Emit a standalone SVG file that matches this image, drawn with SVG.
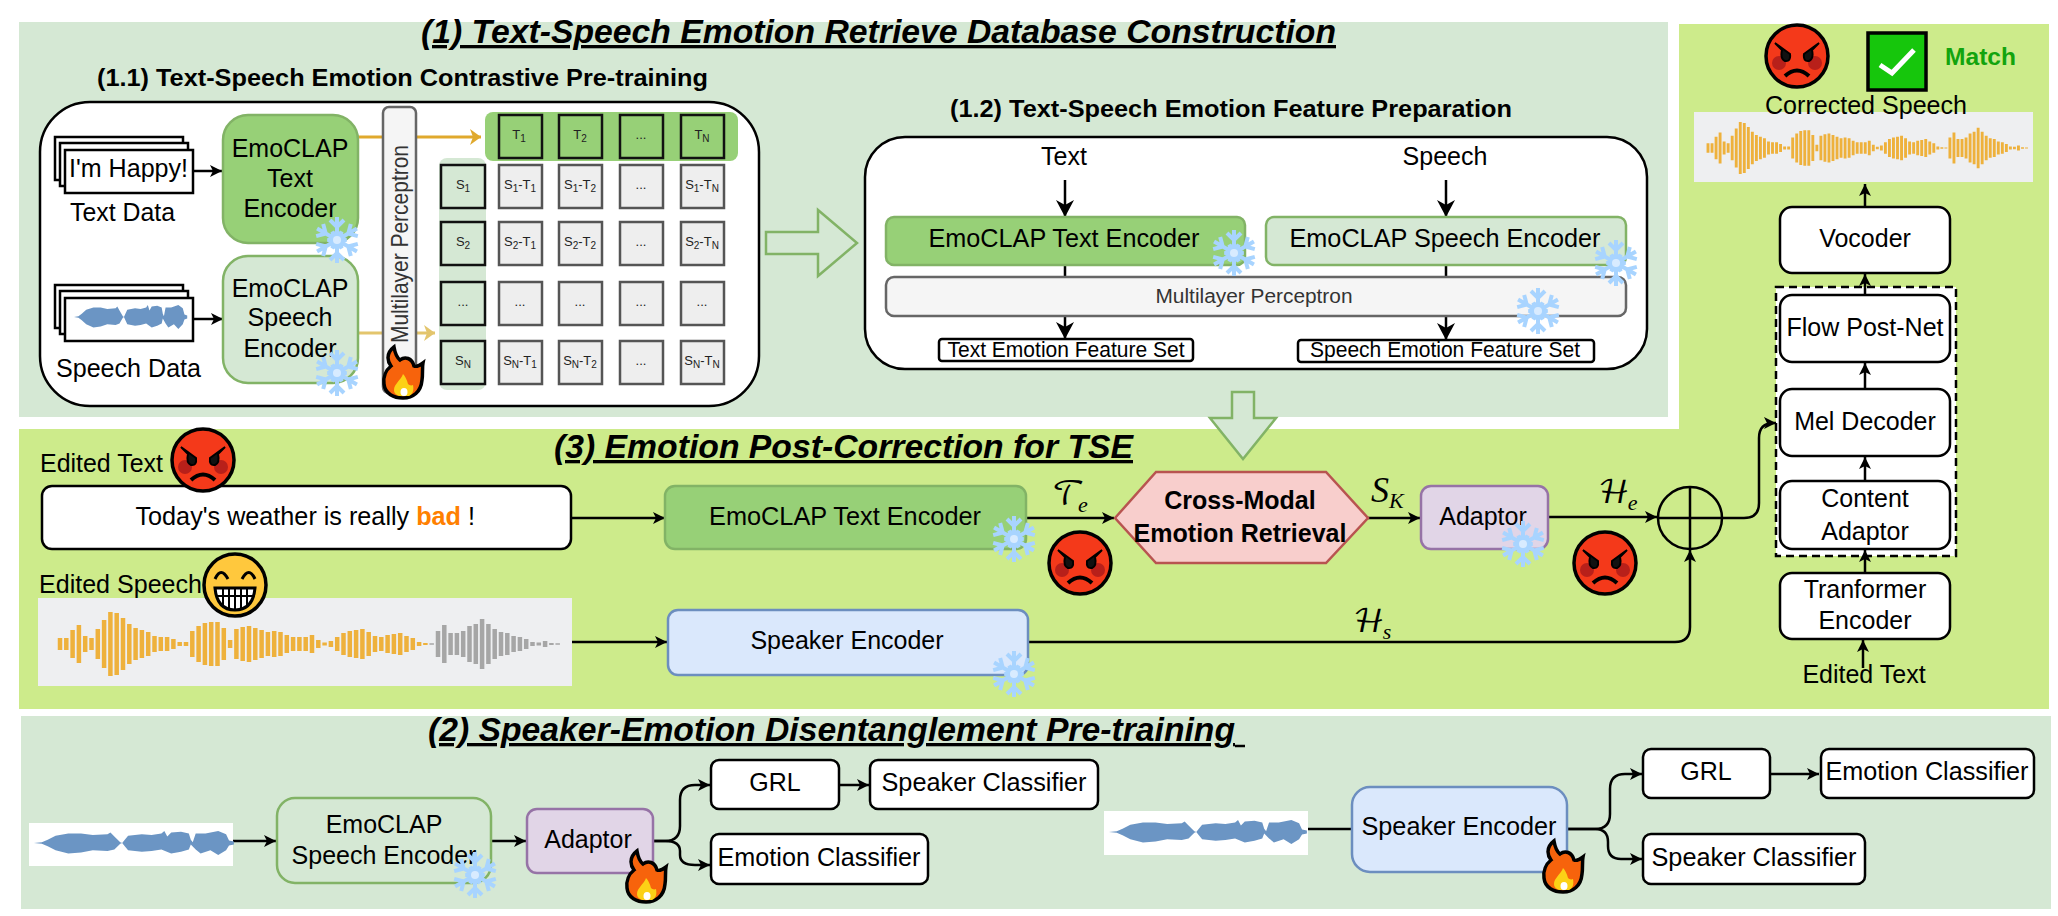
<svg xmlns="http://www.w3.org/2000/svg" width="2058" height="916" viewBox="0 0 2058 916">
<style>
text{font-family:"Liberation Sans",Arial,sans-serif;fill:#000;font-size:25px}
.m{text-anchor:middle}
.h{font-weight:bold;font-style:italic;text-decoration:underline;font-size:33px}
.sh{font-weight:bold;font-size:24px}
.w{fill:#fff;stroke:#000;stroke-width:2.5}
.g1{fill:#97d077;stroke:#82b366;stroke-width:2.5}
.g2{fill:#d5e8d4;stroke:#82b366;stroke-width:2.5}
.b{fill:#dae8fc;stroke:#6c8ebf;stroke-width:2.5}
.p{fill:#e1d5e7;stroke:#9673a6;stroke-width:2.5}
.mlp{fill:#f5f5f5;stroke:#666;stroke-width:2.5}
.c{fill:#eee;stroke:#555;stroke-width:2.5}
.s{fill:#d5e8d4;stroke:#111;stroke-width:2.5}
.t{fill:#97d077;stroke:#111;stroke-width:2.5}
.cell{font-size:13px;text-anchor:middle;fill:#222}
.sub{font-size:10px}
.l{fill:none;stroke:#000;stroke-width:2.5}
.a{marker-end:url(#ah)}
.big{marker-end:url(#ahb)}
.math{font-family:"DejaVu Math TeX Gyre","DejaVu Sans",serif;font-size:32px}
.mathi{font-family:"Liberation Serif",serif;font-style:italic;font-size:36px}
.msub{font-size:22px}
.msube{font-size:22px}
</style>
<defs>
<marker id="ah" markerUnits="userSpaceOnUse" markerWidth="14" markerHeight="14" refX="12" refY="6" orient="auto"><path d="M0 0L12 6L0 12L3 6Z" fill="#000"/></marker>
<marker id="ahb" markerUnits="userSpaceOnUse" markerWidth="20" markerHeight="20" refX="17" refY="9" orient="auto"><path d="M0 0L17 9L0 18L5 9Z" fill="#000"/></marker>
<marker id="ao" markerUnits="userSpaceOnUse" markerWidth="14" markerHeight="18" refX="11" refY="8" orient="auto"><path d="M0 0L11 8L0 16L3 8Z" fill="#e0a92d"/></marker>
<marker id="ao2" markerUnits="userSpaceOnUse" markerWidth="14" markerHeight="18" refX="11" refY="8" orient="auto"><path d="M0 0L11 8L0 16L3 8Z" fill="#e3c56d"/></marker>
<path id="arm" fill="none" stroke="#a8d4ff" stroke-width="4" d="M0 -4V-23M-7 -20L0 -13L7 -20M-5 -8L0 -4L5 -8"/>
<g id="snow">
<use href="#arm"/><use href="#arm" transform="rotate(60)"/><use href="#arm" transform="rotate(120)"/><use href="#arm" transform="rotate(180)"/><use href="#arm" transform="rotate(240)"/><use href="#arm" transform="rotate(300)"/>
<circle r="4" fill="#d8ebff"/>
</g>
<g id="flame">
<path d="M-9 -25C-18 -18 -15 -10 -12 -6C-17 -2 -20 5 -19 12C-18 22 -9 26 0 26C10 26 18 20 19 8C20 2 19 -4 20 -9C16 -6 13 -5 11 -6C9 -14 2 -16 -3 -12C-7 -15 -8 -19 -9 -25Z" fill="#f7630c" stroke="#000" stroke-width="3.5"/>
<path d="M0 2C-2 8 -9 12 -9 18C-9 22 -5 24 -2 24L6 24C10 22 11 18 10 13C8 14 6 13 5 12C4 8 2 4 0 2Z" fill="#fcd116"/>
<ellipse cx="1" cy="20" rx="3.5" ry="4" fill="#fff"/>
</g>
<g id="angry">
<circle r="31" fill="#f4391a" stroke="#000" stroke-width="3.5"/>
<ellipse cx="-18" cy="7" rx="7" ry="7" fill="#b8201a"/><ellipse cx="18" cy="7" rx="7" ry="7" fill="#b8201a"/>
<path d="M-22 -13L-7 -2Q-6 6 -12 5Q-17 3 -15 -6ZM22 -13L7 -2Q6 6 12 5Q17 3 15 -6Z" fill="#111" stroke="#000" stroke-width="2"/>
<path d="M-12 20Q0 9 12 20" fill="none" stroke="#000" stroke-width="4"/>
</g>
<g id="grin">
<circle r="31" fill="#ffc83d" stroke="#000" stroke-width="3.5"/>
<path d="M-20 -6Q-14 -19 -7 -6M7 -6Q14 -19 20 -6" fill="none" stroke="#000" stroke-width="3"/>
<path d="M-20 3H20Q18 25 0 25Q-18 25 -20 3Z" fill="#fff" stroke="#000" stroke-width="3"/>
<path d="M-18 11H18M-12 3V21M-6 3V24M0 3V25M6 3V24M12 3V21" stroke="#000" stroke-width="2" fill="none"/>
</g>
<path id="wo" d="M0-6V6M6.3-6V6M12.6-14V14M18.9-19V19M25.2-8V8M31.5-6V6M37.8-15V15M44.1-24V24M50.4-32V32M56.7-31V31M63-26V26M69.3-20V20M75.6-16V16M81.9-14V14M88.2-12V12M94.5-8V8M100.8-7V7M107.1-7V7M113.4-5V5M119.7-2V2M126-2V2M132.3-13V13M138.6-18V18M144.9-21V21M151.2-22V22M157.5-22V22M163.8-16V16M170.1-4V4M176.4-15V15M182.7-17V17M189-18V18M195.3-16V16M201.6-14V14M207.9-12V12M214.2-13V13M220.5-12V12M226.8-9V9M233.1-7V7M239.4-7V7M245.7-7V7M252-9V9M258.3-4V4M264.6-1.5V1.5M270.9-3V3M277.2-7V7M283.5-11V11M289.8-13V13M296.1-14V14M302.4-15V15M308.7-12V12M315-8V8M321.3-7V7M327.6-9V9M333.9-10V10M340.2-11V11M346.5-8V8M352.8-6V6M359.1-2V2M365.4-1V1"/>
<path id="wg" d="M371.7-.7V.7M378-13V13M384.3-19V19M390.6-11V11M396.9-11V11M403.2-13V13M409.5-18V18M415.8-20V20M422.1-25V25M428.4-20V20M434.7-15V15M441-12V12M447.3-11V11M453.6-8V8M459.9-7V7M466.2-5V5M472.5-2V2M478.8-1.5V1.5M485.1-3V3M491.4-1V1M497.7-.7V.7"/>
<path id="blue" fill="#6b95c4" d="M0 0L8-1L14-4L22-9L35-12L48-12L60-10L75-11L78-13L82-8L88-1L90 0L92-3L96-9L110-11L120-10L130-12L133-15L136-8L140-13L150-14L158-12L160-4L162-1L165-12L175-12L188-15L196-11L199-3L204-2L204 2L199 3L196 9L188 15L180 9L170 13L165 8L160 2L158 8L150 11L140 13L130 8L120 10L110 11L96 9L92 3L90 0L88 1L82 8L75 10L60 9L48 12L35 13L22 9L14 4L8 1Z"/>
</defs>

<g id="panels">
<rect id="panel-1" x="19" y="22" width="1649" height="395" fill="#d5e8d4"/>
<path id="panel-3" d="M1679 24H2049V709H19V429H1679Z" fill="#cdeb8b"/>
<rect id="panel-2" x="21" y="716" width="2030" height="193" fill="#d5e8d4"/>
</g>

<g id="containers">
<rect id="box-1-1" x="40" y="102" width="719" height="304" rx="50" fill="#fff" stroke="#000" stroke-width="2.5"/>
<rect id="box-1-2" x="865" y="137" width="782" height="232" rx="40" fill="#fff" stroke="#000" stroke-width="2.5"/>
<rect id="t-band" x="485" y="112" width="253" height="49" rx="8" fill="#97d077"/>
<rect id="s-band" x="439" y="158" width="47" height="232" rx="8" fill="#d5e8d4"/>
<path id="block-arrow-right" d="M766 232H818V210L857 243L818 276V254H766Z" fill="#d5e8d4" stroke="#82b366" stroke-width="2.5"/>
<path id="block-arrow-down" d="M1232 392H1254V418H1276L1243 459L1210 418H1232Z" fill="#d5e8d4" stroke="#82b366" stroke-width="2.5"/>
<rect id="dashed-box" x="1776" y="287" width="180" height="269" fill="#fff" stroke="#000" stroke-width="2.5" stroke-dasharray="8 5"/>
</g>

<g id="titles">
<text class="h" x="421" y="43" textLength="915" lengthAdjust="spacingAndGlyphs">(1) Text-Speech Emotion Retrieve Database Construction</text>
<text class="sh" x="97" y="86" textLength="611" lengthAdjust="spacingAndGlyphs">(1.1) Text-Speech Emotion Contrastive Pre-training</text>
<text class="sh" x="950" y="117" textLength="562" lengthAdjust="spacingAndGlyphs">(1.2) Text-Speech Emotion Feature Preparation</text>
<text class="h" x="554" y="458" textLength="579" lengthAdjust="spacingAndGlyphs">(3) Emotion Post-Correction for TSE</text>
<text class="h" x="428" y="741" textLength="807" lengthAdjust="spacingAndGlyphs">(2) Speaker-Emotion Disentanglement Pre-training</text>
<path d="M1235 746H1245" stroke="#000" stroke-width="2.5"/>
</g>

<g id="connectors">
<path class="l a" d="M193 171H222"/>
<path class="l a" d="M193 319H223"/>
<path d="M358 137H481" fill="none" stroke="#e0a92d" stroke-width="3" marker-end="url(#ao)"/>
<path d="M358 333H435" fill="none" stroke="#e3c56d" stroke-width="3" marker-end="url(#ao2)"/>
<path class="l big" d="M1065 180V217"/>
<path class="l big" d="M1446 180V217"/>
<path class="l" d="M1065 265V277M1446 265V277"/>
<path class="l big" d="M1065 316V339"/>
<path class="l big" d="M1446 316V340"/>
<path class="l a" d="M571 518H665"/>
<path class="l a" d="M1026 518H1114"/>
<path class="l a" d="M1368 518H1420"/>
<path class="l a" d="M1548 517H1657"/>
<path class="l a" d="M572 642H667"/>
<path class="l a" d="M1028 642H1675Q1690 642 1690 627V550"/>
<path class="l a" d="M1722 518H1744Q1759 518 1759 503V438Q1759 423 1774 423H1776"/>
<path class="l a" d="M1865 207V184"/>
<path class="l a" d="M1865 295V274"/>
<path class="l a" d="M1865 389V363"/>
<path class="l a" d="M1865 481V457"/>
<path class="l a" d="M1865 573V550"/>
<path class="l a" d="M1863 668V640"/>
<path class="l a" d="M233 841H276"/>
<path class="l a" d="M491 841H526"/>
<path class="l a" d="M653 841H665Q680 841 680 826V800Q680 785 695 785H710"/>
<path class="l a" d="M653 841H665Q680 841 680 851V855Q680 865 695 865H710"/>
<path class="l a" d="M839 785H869"/>
<path class="l" d="M1308 829H1352"/>
<path class="l a" d="M1567 829H1595Q1610 829 1610 814V789Q1610 774 1625 774H1642"/>
<path class="l a" d="M1567 829H1595Q1608 829 1608 842V846Q1608 859 1621 859H1642"/>
<path class="l a" d="M1770 774H1819"/>
</g>

<g id="text-data">
<rect class="w" x="55" y="137" width="128" height="43"/><rect class="w" x="60" y="143" width="128" height="43"/><rect class="w" x="65" y="150" width="128" height="43"/>
<text x="69" y="177" textLength="119" lengthAdjust="spacingAndGlyphs">I'm Happy!</text>
<text x="70" y="221" textLength="105" lengthAdjust="spacingAndGlyphs">Text Data</text>
</g>
<g id="speech-data">
<rect class="w" x="55" y="285" width="128" height="43"/><rect class="w" x="60" y="291" width="128" height="43"/><rect class="w" x="65" y="298" width="128" height="43"/>
<use href="#blue" transform="translate(74 317) scale(.555 .8)"/>
<text x="56" y="377" textLength="145" lengthAdjust="spacingAndGlyphs">Speech Data</text>
</g>
<g id="emoclap-text-encoder-1">
<rect class="g1" x="223" y="115" width="135" height="128" rx="25"/>
<text class="m" x="290" y="157">EmoCLAP</text><text class="m" x="290" y="187">Text</text><text class="m" x="290" y="217">Encoder</text>
</g>
<g id="emoclap-speech-encoder-1">
<rect class="g2" x="223" y="256" width="135" height="127" rx="25"/>
<text class="m" x="290" y="297">EmoCLAP</text><text class="m" x="290" y="326">Speech</text><text class="m" x="290" y="357">Encoder</text>
</g>
<g id="mlp-1">
<rect class="mlp" x="383" y="107" width="33" height="286" rx="6"/>
<text transform="translate(408 343) rotate(-90)" textLength="198" lengthAdjust="spacingAndGlyphs" style="font-size:24px;fill:#333">Multilayer Perceptron</text>
</g>
<g id="similarity-matrix">
<rect class="t" x="499" y="115" width="43" height="43"/><rect class="t" x="559" y="115" width="43" height="43"/><rect class="t" x="620" y="115" width="43" height="43"/><rect class="t" x="681" y="115" width="43" height="43"/>
<rect class="s" x="441" y="165" width="44" height="43"/><rect class="s" x="441" y="222" width="44" height="43"/><rect class="s" x="441" y="282" width="44" height="43"/><rect class="s" x="441" y="341" width="44" height="43"/>
<rect class="c" x="499" y="165" width="43" height="43"/><rect class="c" x="559" y="165" width="43" height="43"/><rect class="c" x="620" y="165" width="43" height="43"/><rect class="c" x="681" y="165" width="43" height="43"/>
<rect class="c" x="499" y="222" width="43" height="43"/><rect class="c" x="559" y="222" width="43" height="43"/><rect class="c" x="620" y="222" width="43" height="43"/><rect class="c" x="681" y="222" width="43" height="43"/>
<rect class="c" x="499" y="282" width="43" height="43"/><rect class="c" x="559" y="282" width="43" height="43"/><rect class="c" x="620" y="282" width="43" height="43"/><rect class="c" x="681" y="282" width="43" height="43"/>
<rect class="c" x="499" y="341" width="43" height="43"/><rect class="c" x="559" y="341" width="43" height="43"/><rect class="c" x="620" y="341" width="43" height="43"/><rect class="c" x="681" y="341" width="43" height="43"/>
<text class="cell" x="519" y="139">T<tspan class="sub" dy="3">1</tspan></text>
<text class="cell" x="580" y="139">T<tspan class="sub" dy="3">2</tspan></text>
<text class="cell" x="641" y="139">...</text>
<text class="cell" x="702" y="139">T<tspan class="sub" dy="3">N</tspan></text>
<text class="cell" x="463" y="189">S<tspan class="sub" dy="3">1</tspan></text>
<text class="cell" x="463" y="246">S<tspan class="sub" dy="3">2</tspan></text>
<text class="cell" x="463" y="306">...</text>
<text class="cell" x="463" y="365">S<tspan class="sub" dy="3">N</tspan></text>
<text class="cell" x="520" y="189">S<tspan class="sub" dy="3">1</tspan><tspan dy="-3">-T</tspan><tspan class="sub" dy="3">1</tspan></text>
<text class="cell" x="580" y="189">S<tspan class="sub" dy="3">1</tspan><tspan dy="-3">-T</tspan><tspan class="sub" dy="3">2</tspan></text>
<text class="cell" x="641" y="189">...</text>
<text class="cell" x="702" y="189">S<tspan class="sub" dy="3">1</tspan><tspan dy="-3">-T</tspan><tspan class="sub" dy="3">N</tspan></text>
<text class="cell" x="520" y="246">S<tspan class="sub" dy="3">2</tspan><tspan dy="-3">-T</tspan><tspan class="sub" dy="3">1</tspan></text>
<text class="cell" x="580" y="246">S<tspan class="sub" dy="3">2</tspan><tspan dy="-3">-T</tspan><tspan class="sub" dy="3">2</tspan></text>
<text class="cell" x="641" y="246">...</text>
<text class="cell" x="702" y="246">S<tspan class="sub" dy="3">2</tspan><tspan dy="-3">-T</tspan><tspan class="sub" dy="3">N</tspan></text>
<text class="cell" x="520" y="306">...</text><text class="cell" x="580" y="306">...</text><text class="cell" x="641" y="306">...</text><text class="cell" x="702" y="306">...</text>
<text class="cell" x="520" y="365">S<tspan class="sub" dy="3">N</tspan><tspan dy="-3">-T</tspan><tspan class="sub" dy="3">1</tspan></text>
<text class="cell" x="580" y="365">S<tspan class="sub" dy="3">N</tspan><tspan dy="-3">-T</tspan><tspan class="sub" dy="3">2</tspan></text>
<text class="cell" x="641" y="365">...</text>
<text class="cell" x="702" y="365">S<tspan class="sub" dy="3">N</tspan><tspan dy="-3">-T</tspan><tspan class="sub" dy="3">N</tspan></text>
</g>

<g id="feature-prep">
<text class="m" x="1064" y="165">Text</text>
<text class="m" x="1445" y="165">Speech</text>
</g>
<g id="emoclap-text-encoder-2"><rect class="g1" x="886" y="217" width="359" height="48" rx="8"/><text class="m" x="1064" y="247" textLength="271" lengthAdjust="spacingAndGlyphs">EmoCLAP Text Encoder</text></g>
<g id="emoclap-speech-encoder-2"><rect class="g2" x="1266" y="217" width="360" height="48" rx="8"/><text class="m" x="1445" y="247" textLength="311" lengthAdjust="spacingAndGlyphs">EmoCLAP Speech Encoder</text></g>
<g id="mlp-2"><rect class="mlp" x="886" y="277" width="740" height="39" rx="8"/><text class="m" x="1254" y="303" style="font-size:20px;fill:#333" textLength="197" lengthAdjust="spacingAndGlyphs">Multilayer Perceptron</text></g>
<g id="text-feature-set"><rect class="w" x="939" y="339" width="254" height="22" rx="3"/><text class="m" x="1066" y="357" style="font-size:22px" textLength="237" lengthAdjust="spacingAndGlyphs">Text Emotion Feature Set</text></g>
<g id="speech-feature-set"><rect class="w" x="1298" y="340" width="296" height="22" rx="3"/><text class="m" x="1445" y="357" style="font-size:22px" textLength="270" lengthAdjust="spacingAndGlyphs">Speech Emotion Feature Set</text></g>

<g id="edited-text">
<text x="40" y="472" textLength="123" lengthAdjust="spacingAndGlyphs">Edited Text</text>
<rect class="w" x="42" y="486" width="529" height="63" rx="10"/>
<text x="135.5" y="525" textLength="339.5" lengthAdjust="spacingAndGlyphs">Today's weather is really <tspan style="fill:#ff8000;font-weight:bold">bad</tspan> !</text>
</g>
<g id="edited-speech">
<rect x="38" y="598" width="534" height="88" fill="#eeeff1"/>
<use href="#wo" x="60" y="644" stroke="#eeb13c" stroke-width="4.5"/>
<use href="#wg" x="60" y="644" stroke="#a6a6a6" stroke-width="4.5"/>
<text x="39" y="593" textLength="163" lengthAdjust="spacingAndGlyphs">Edited Speech</text>
</g>
<g id="emoclap-text-encoder-3"><rect class="g1" x="665" y="486" width="361" height="63" rx="10"/><text x="709" y="525" textLength="272" lengthAdjust="spacingAndGlyphs">EmoCLAP Text Encoder</text></g>
<g id="speaker-encoder-3"><rect class="b" x="668" y="610" width="360" height="65" rx="10"/><text class="m" x="847" y="649">Speaker Encoder</text></g>
<g id="retrieval"><path d="M1115 518L1156 472H1326L1368 518L1326 563H1156Z" fill="#f8cecc" stroke="#b85450" stroke-width="2.5"/>
<text class="m" x="1240" y="509" style="font-weight:bold">Cross-Modal</text><text class="m" x="1240" y="542" style="font-weight:bold" textLength="213" lengthAdjust="spacingAndGlyphs">Emotion Retrieval</text></g>
<g id="adaptor-3"><rect class="p" x="1421" y="486" width="127" height="63" rx="10"/><text class="m" x="1483" y="525">Adaptor</text></g>
<g id="sum"><ellipse cx="1690" cy="518" rx="32" ry="31" fill="none" stroke="#000" stroke-width="2.5"/><path d="M1658 518H1722M1690 487V549" stroke="#000" stroke-width="2.5"/></g>
<g id="math-labels">
<text class="math" x="1052" y="505">𝒯<tspan class="mathi msube" dx="-7" dy="7">e</tspan></text>
<text class="mathi" x="1371" y="502">S<tspan class="msub" dy="6">K</tspan></text>
<text class="math" x="1598" y="503">ℋ<tspan class="mathi msube" dx="-2" dy="7">e</tspan></text>
<text class="math" x="1353" y="632">ℋ<tspan class="mathi msube" dx="-2" dy="7">s</tspan></text>
</g>

<g id="corrected-speech">
<rect x="1694" y="112" width="339" height="70" fill="#eeeff1"/>
<g transform="translate(1708 148) scale(.64 .81)" stroke="#eeb13c" stroke-width="4.5"><use href="#wo"/><use href="#wg"/></g>
<text x="1765" y="114" textLength="202" lengthAdjust="spacingAndGlyphs">Corrected Speech</text>
</g>
<g id="match"><rect x="1868" y="33" width="58" height="57" fill="#16c60c" stroke="#000" stroke-width="3.5"/><path d="M1880 65L1892 73L1914 50" fill="none" stroke="#fff" stroke-width="5"/>
<text x="1945" y="65" textLength="71" lengthAdjust="spacingAndGlyphs" style="font-weight:bold;font-size:24px;fill:#12a40e">Match</text></g>
<g id="vocoder"><rect class="w" x="1780" y="207" width="170" height="66" rx="12"/><text class="m" x="1865" y="247">Vocoder</text></g>
<g id="flow-post-net"><rect class="w" x="1780" y="295" width="170" height="67" rx="12"/><text class="m" x="1865" y="336">Flow Post-Net</text></g>
<g id="mel-decoder"><rect class="w" x="1780" y="389" width="170" height="67" rx="12"/><text class="m" x="1865" y="430">Mel Decoder</text></g>
<g id="content-adaptor"><rect class="w" x="1780" y="481" width="170" height="68" rx="12"/><text class="m" x="1865" y="507">Content</text><text class="m" x="1865" y="540">Adaptor</text></g>
<g id="tranformer-encoder"><rect class="w" x="1780" y="573" width="170" height="66" rx="12"/><text class="m" x="1865" y="598">Tranformer</text><text class="m" x="1865" y="629">Encoder</text></g>
<text id="edited-text-2" class="m" x="1864" y="683">Edited Text</text>

<g id="wave-2a"><rect x="29" y="823" width="204" height="43" fill="#fff"/><use href="#blue" transform="translate(34 843) scale(.98 .8)"/></g>
<g id="emoclap-speech-encoder-4"><rect class="g2" x="277" y="798" width="214" height="85" rx="18"/><text class="m" x="384" y="833">EmoCLAP</text><text class="m" x="384" y="864">Speech Encoder</text></g>
<g id="adaptor-4"><rect class="p" x="527" y="809" width="126" height="64" rx="10"/><text class="m" x="588" y="848">Adaptor</text></g>
<g id="grl-a"><rect class="w" x="711" y="760" width="128" height="49" rx="8"/><text class="m" x="775" y="791">GRL</text></g>
<g id="speaker-classifier-a"><rect class="w" x="870" y="760" width="228" height="49" rx="8"/><text class="m" x="984" y="791" textLength="205" lengthAdjust="spacingAndGlyphs">Speaker Classifier</text></g>
<g id="emotion-classifier-a"><rect class="w" x="711" y="834" width="217" height="50" rx="8"/><text class="m" x="819" y="866" textLength="203" lengthAdjust="spacingAndGlyphs">Emotion Classifier</text></g>
<g id="wave-2b"><rect x="1104" y="811" width="204" height="44" fill="#fff"/><use href="#blue" transform="translate(1109 832) scale(.97 .8)"/></g>
<g id="speaker-encoder-4"><rect class="b" x="1352" y="787" width="215" height="85" rx="18"/><text class="m" x="1459" y="835" textLength="195" lengthAdjust="spacingAndGlyphs">Speaker Encoder</text></g>
<g id="grl-b"><rect class="w" x="1643" y="749" width="127" height="49" rx="8"/><text class="m" x="1706" y="780">GRL</text></g>
<g id="emotion-classifier-b"><rect class="w" x="1821" y="749" width="213" height="49" rx="8"/><text class="m" x="1927" y="780" textLength="203" lengthAdjust="spacingAndGlyphs">Emotion Classifier</text></g>
<g id="speaker-classifier-b"><rect class="w" x="1643" y="834" width="222" height="50" rx="8"/><text class="m" x="1754" y="866" textLength="205" lengthAdjust="spacingAndGlyphs">Speaker Classifier</text></g>

<g id="icons">
<use href="#snow" transform="translate(337 240)"/>
<use href="#snow" transform="translate(337 373)"/>
<use href="#snow" transform="translate(1234 253)"/>
<use href="#snow" transform="translate(1616 263)"/>
<use href="#snow" transform="translate(1538 311)"/>
<use href="#snow" transform="translate(1014 539)"/>
<use href="#snow" transform="translate(1523 544)"/>
<use href="#snow" transform="translate(1014 674)"/>
<use href="#snow" transform="translate(475 875)"/>
<use href="#flame" x="403" y="372"/>
<use href="#flame" x="646" y="876"/>
<use href="#flame" x="1563" y="866"/>
<use href="#angry" x="203" y="460"/>
<use href="#grin" x="235" y="585"/>
<use href="#angry" x="1080" y="563"/>
<use href="#angry" x="1605" y="563"/>
<use href="#angry" x="1797" y="56"/>
</g>
</svg>
